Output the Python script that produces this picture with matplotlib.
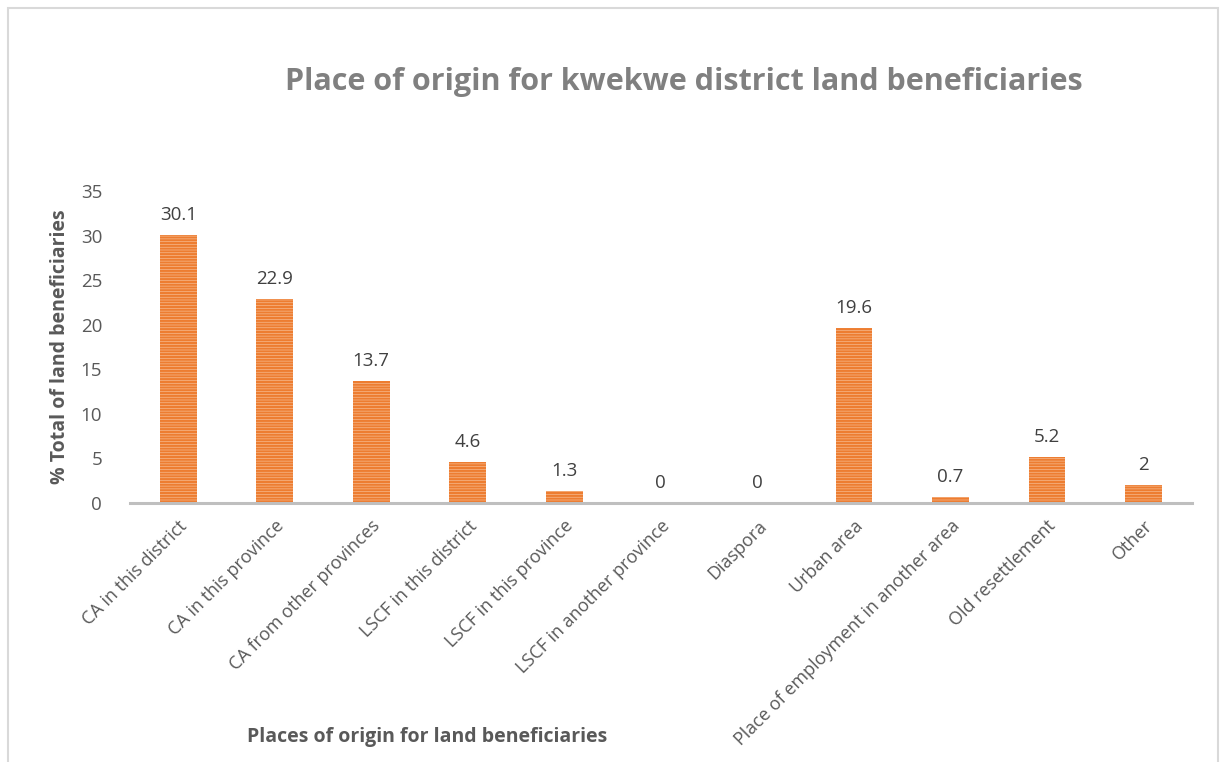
import matplotlib
matplotlib.use("Agg")
import matplotlib.pyplot as plt
from matplotlib.patches import Rectangle

categories = ["CA in this district", "CA in this province", "CA from other provinces",
              "LSCF in this district", "LSCF in this province", "LSCF in another province",
              "Diaspora", "Urban area", "Place of employment in another area",
              "Old resettlement", "Other"]
values = [30.1, 22.9, 13.7, 4.6, 1.3, 0, 0, 19.6, 0.7, 5.2, 2]
value_labels = ["30.1", "22.9", "13.7", "4.6", "1.3", "0", "0", "19.6", "0.7", "5.2", "2"]
yticks = [0, 5, 10, 15, 20, 25, 30, 35]

plt.rcParams['font.family'] = ['Open Sans', 'DejaVu Sans']
plt.rcParams['hatch.linewidth'] = 1.6

fig = plt.figure(figsize=(12.26, 7.62), dpi=100)
ax = fig.add_axes([0.106, 0.340, 0.866, 0.409])

x = list(range(len(categories)))
bars = ax.bar(x, values, width=0.38, color="#F8C8A4", edgecolor="#ED7D31",
              hatch="------", linewidth=0)
for b, lab in zip(bars, value_labels):
    ax.annotate(lab, (b.get_x() + b.get_width() / 2, b.get_height()),
                xytext=(0, 8), textcoords="offset points", ha="center", va="bottom",
                fontsize=13.5, color="#404040")

ax.set_xlim(-0.5, len(categories) - 0.5)
ax.set_ylim(0, 35)
ax.set_yticks(yticks)
ax.set_yticklabels([str(t) for t in yticks], fontsize=13.5, color="#595959")
ax.set_xticks(x)
ax.set_xticklabels(categories, rotation=45, ha="right", rotation_mode="anchor",
                   fontsize=13, color="#595959")
ax.tick_params(axis="both", length=0)
ax.tick_params(axis="y", pad=20)
ax.tick_params(axis="x", pad=10)
for s in ["top", "right", "left"]:
    ax.spines[s].set_visible(False)
ax.spines["bottom"].set_color("#BFBFBF")
ax.spines["bottom"].set_linewidth(2.2)

ax.set_ylabel("% Total of land beneficiaries", fontsize=14, fontweight="bold",
              color="#595959", labelpad=8)
fig.text(427 / 1226, 1 - 737 / 762, "Places of origin for land beneficiaries",
         ha="center", va="center", fontsize=14, fontweight="bold", color="#595959")
fig.text(684 / 1226, 1 - 82 / 762, "Place of origin for kwekwe district land beneficiaries",
         ha="center", va="center", fontsize=22, fontweight="bold", color="#808080")

# chart border
fig.patches.append(Rectangle((8 / 1226, -0.05), 1210 / 1226, 1.05 - 8 / 762,
                             transform=fig.transFigure, fill=False,
                             edgecolor="#D9D9D9", linewidth=1.5))

fig.savefig("out.png", dpi=100)
